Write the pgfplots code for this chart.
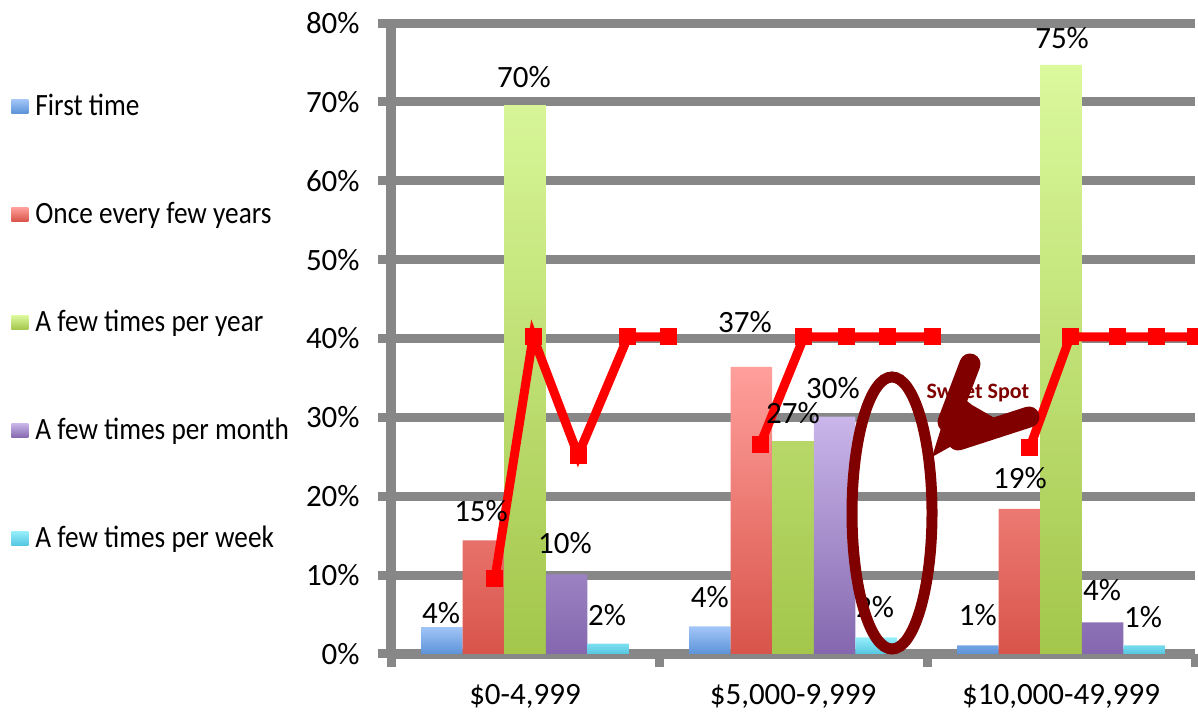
\documentclass[border=0pt]{standalone}
\usepackage{fontspec}
\setmainfont{Carlito}
\newfontfamily\legfont[FakeStretch=0.88]{Carlito}
\usepackage{pgfplots}
\pgfplotsset{compat=1.18}
\definecolor{gridgray}{HTML}{878787}
\definecolor{blueTop}{HTML}{A3C6F8}
\definecolor{blueBot}{HTML}{5B93D8}
\definecolor{redTop}{HTML}{FF9F9B}
\definecolor{redBot}{HTML}{D8544A}
\definecolor{greenTop}{HTML}{DBF99D}
\definecolor{greenBot}{HTML}{A3C64B}
\definecolor{purpleTop}{HTML}{CAB6EA}
\definecolor{purpleBot}{HTML}{8467AE}
\definecolor{cyanTop}{HTML}{95EEFB}
\definecolor{cyanBot}{HTML}{55C6E0}
\definecolor{maroon}{HTML}{800000}
\newcommand{\bigfont}{\fontsize{15.5}{18}\selectfont}
\begin{document}
\begin{tikzpicture}
\path[use as bounding box] (0,0) rectangle (599pt,358pt);
\begin{axis}[
  at={(195.5pt,31pt)}, anchor=south west,
  scale only axis, width=402pt, height=315.5pt,
  xmin=-0.5, xmax=2.5, ymin=0, ymax=80,
  clip=false,
  axis lines*=left,
  axis line style={line width=5pt, color=gridgray},
  ymajorgrids,
  major grid style={line width=4.5pt, color=gridgray},
  ytick={0,10,20,30,40,50,60,70,80},
  yticklabels={0\%,10\%,20\%,30\%,40\%,50\%,60\%,70\%,80\%},
  xtick={-0.5,0.5,1.5,2.5},
  x tick label as interval,
  xticklabels={{\$0-4,999},{\$5,000-9,999},{\$10,000-49,999}},
  tick align=outside,
  major tick length=6.5pt,
  tick style={line width=4.5pt, color=gridgray},
  tick label style={font=\bigfont, inner sep=0pt},
  yticklabel style={anchor=east, xshift=-9pt},
  xticklabel style={anchor=base, yshift=-19pt},
  legend cell align=left,
  legend style={at={(axis description cs:-0.4726,0.8859)}, anchor=north west,
    draw=none, fill=none, inner sep=0pt, row sep=41pt, column sep=3.5pt,
    font=\legfont\bigfont, nodes={inner sep=0pt, text height=10pt, text depth=3pt}},
  legend image code/.code={\path[#1,draw=none] (0pt,-2.5pt) rectangle (8.5pt,4.5pt);},
]
\addplot[ybar, bar width=0.155, bar shift=-0.31, draw=none, top color=blueTop, bottom color=blueBot]
  coordinates {(0,3.4) (1,3.5) (2,1.1)};
\addlegendentry{First time}
\addplot[ybar, bar width=0.155, bar shift=-0.155, draw=none, top color=redTop, bottom color=redBot]
  coordinates {(0,14.4) (1,36.4) (2,18.4)};
\addlegendentry{Once every few years}
\addplot[ybar, bar width=0.155, bar shift=0, draw=none, top color=greenTop, bottom color=greenBot]
  coordinates {(0,69.6) (1,27.0) (2,74.7)};
\addlegendentry{A few times per year}
\addplot[ybar, bar width=0.155, bar shift=0.155, draw=none, top color=purpleTop, bottom color=purpleBot]
  coordinates {(0,10.1) (1,30.1) (2,4.0)};
\addlegendentry{A few times per month}
\addplot[ybar, bar width=0.155, bar shift=0.31, draw=none, top color=cyanTop, bottom color=cyanBot]
  coordinates {(0,1.3) (1,2.1) (2,1.1)};
\addlegendentry{A few times per week}
% data labels
\addplot[forget plot, draw=none, mark=none, nodes near coords, point meta=explicit symbolic,
  every node near coord/.style={anchor=center, font=\bigfont, inner sep=0pt, text=black}]
  coordinates {
  (-0.313,5.2) [4\%] (-0.164,18.1) [15\%] (-0.004,73.1) [70\%] (0.149,14.1) [10\%] (0.306,4.9) [2\%]
  (0.690,7.2) [4\%] (0.821,42.1) [37\%] (1.0,30.6) [27\%] (1.149,33.7) [30\%] (1.306,6.0) [2\%]
  (1.690,4.9) [1\%] (1.847,22.3) [19\%] (2.004,78.1) [75\%] (2.153,8.1) [4\%] (2.306,4.7) [1\%]
  };
% red line
\addplot[forget plot, color=red, line width=4.5pt, mark=square*, mark size=4pt, mark options={line width=0pt}]
  coordinates {(-0.112,9.6) (0.030,40.2) (0.198,25.2) (0.384,40.2) (0.537,40.2)};
\addplot[forget plot, color=red, line width=4.5pt, mark=square*, mark size=4pt, mark options={line width=0pt}]
  coordinates {(0.877,26.5) (1.041,40.2) (1.201,40.2) (1.351,40.2) (1.519,40.2)};
\addplot[forget plot, color=red, line width=4.5pt, mark=square*, mark size=4pt, mark options={line width=0pt}]
  coordinates {(1.884,26.2) (2.034,40.2) (2.209,40.2) (2.358,40.2) (2.500,40.2)};
\end{axis}
\begin{scope}[x=0.5pt, y=-0.5pt, yshift=358pt]
  \node[text=maroon, font=\fontsize{11}{13}\selectfont\bfseries] at (978,393) {Sweet Spot};
  \draw[maroon, line width=5.5pt] (892,513) ellipse [x radius=40, y radius=136];
  \fill[maroon] (932,457) -- (953,390) -- (972,405) -- (998,420) -- cycle;
  \draw[maroon, line width=10.5pt, line cap=round] (970,364) -- (948,422);
  \draw[maroon, line width=10.5pt, line cap=round] (1029,417) -- (958,440);
\end{scope}
\end{tikzpicture}
\end{document}
